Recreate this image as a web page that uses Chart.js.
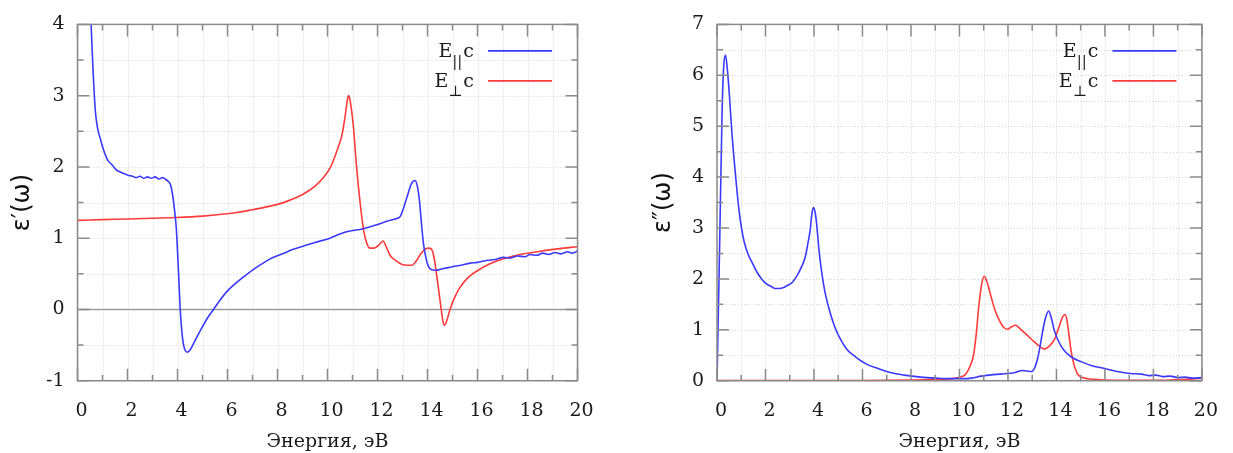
<!DOCTYPE html>
<html>
<head>
<meta charset="utf-8">
<script src="https://cdn.jsdelivr.net/npm/chart.js@4/dist/chart.umd.min.js"></script>
<style>
  body { margin: 0; background: #fff; }
  #wrap { position: relative; width: 1233px; height: 453px; overflow: hidden; }
  canvas { position: absolute; top: 0; }
</style>
</head>
<body>
<div id="wrap">
  <canvas id="re" width="616" height="453" style="left:0"></canvas>
  <canvas id="im" width="617" height="453" style="left:616px"></canvas>
</div>
<script>
// ε'(ω), E||c
const reParE = [0.3, 0.45, 0.55, 0.61, 0.71, 0.8, 0.91, 1.04, 1.2, 1.38, 1.55, 1.71, 1.9, 2.05, 2.2, 2.35, 2.5, 2.65, 2.8, 2.95,
  3.1, 3.25, 3.4, 3.55, 3.65, 3.72, 3.8, 3.88, 3.95, 4.03, 4.11, 4.2, 4.3, 4.4, 4.5, 4.64, 4.8, 5.0, 5.2, 5.44,
  5.7, 6.0, 6.37, 6.8, 7.2, 7.71, 8.2, 8.6, 9.04, 9.5, 10.1, 10.5, 10.9, 11.4, 11.98, 12.4, 12.7, 12.9, 13.04, 13.2,
  13.35, 13.5, 13.6, 13.68, 13.76, 13.84, 13.94, 14.04, 14.15, 14.3, 14.6, 15.0, 15.35, 15.7, 16.0, 16.4, 16.7, 17.04, 17.3, 17.6,
  17.9, 18.1, 18.38, 18.6, 18.85, 19.1, 19.35, 19.6, 19.8, 20.0];
const rePar = [6.0, 4.7, 3.95, 3.45, 2.8, 2.55, 2.4, 2.24, 2.1, 2.03, 1.96, 1.93, 1.9, 1.88, 1.87, 1.85, 1.87, 1.84, 1.86, 1.84,
  1.86, 1.83, 1.85, 1.82, 1.79, 1.75, 1.62, 1.4, 1.15, 0.6, 0.0, -0.4, -0.57, -0.6, -0.57, -0.48, -0.37, -0.24, -0.12, 0.0,
  0.13, 0.26, 0.38, 0.5, 0.6, 0.71, 0.78, 0.84, 0.89, 0.94, 1.0, 1.06, 1.1, 1.13, 1.19, 1.24, 1.27, 1.3, 1.42, 1.6,
  1.76, 1.81, 1.72, 1.52, 1.2, 0.92, 0.72, 0.6, 0.56, 0.55, 0.57, 0.6, 0.62, 0.65, 0.66, 0.69, 0.7, 0.73, 0.72, 0.75,
  0.74, 0.77, 0.76, 0.79, 0.77, 0.8, 0.78, 0.81, 0.79, 0.82];

// ε'(ω), E⊥c
const rePerpE = [0, 1, 2, 3, 3.97, 5, 6.37, 7.0, 7.71, 8.4, 9.04, 9.5, 9.84, 10.11, 10.3, 10.45, 10.58, 10.7, 10.8, 10.85,
  10.92, 11.04, 11.15, 11.31, 11.45, 11.58, 11.7, 11.85, 12.04, 12.22, 12.35, 12.5, 12.75, 12.98, 13.2, 13.38, 13.55, 13.71, 13.88, 14.04,
  14.15, 14.25, 14.38, 14.53, 14.62, 14.68, 14.76, 14.9, 15.1, 15.3, 15.6, 15.98, 16.5, 17.04, 17.7, 18.38, 19.2, 20];
const rePerp = [1.25, 1.26, 1.27, 1.28, 1.29, 1.31, 1.36, 1.4, 1.45, 1.52, 1.62, 1.73, 1.85, 1.99, 2.15, 2.3, 2.45, 2.7, 2.95, 3.0,
  2.9, 2.55, 2.05, 1.48, 1.1, 0.92, 0.86, 0.86, 0.9, 0.96, 0.88, 0.76, 0.68, 0.63, 0.62, 0.62, 0.68, 0.77, 0.84, 0.86,
  0.85, 0.75, 0.45, 0.05, -0.17, -0.22, -0.17, 0.0, 0.18, 0.31, 0.44, 0.54, 0.64, 0.71, 0.77, 0.81, 0.85, 0.88];

// ε''(ω), E||c
const imParE = [0, 0.11, 0.21, 0.28, 0.35, 0.42, 0.51, 0.61, 0.71, 0.81, 0.91, 1.01, 1.11, 1.27, 1.44, 1.64, 1.84, 2.04, 2.24, 2.4,
  2.58, 2.75, 2.9, 3.1, 3.31, 3.5, 3.64, 3.75, 3.84, 3.92, 3.98, 4.05, 4.11, 4.2, 4.31, 4.45, 4.64, 4.84, 5.04, 5.35,
  5.71, 6.15, 6.64, 7.15, 7.71, 8.4, 9.04, 9.6, 10.1, 10.5, 10.9, 11.4, 11.98, 12.3, 12.58, 12.78, 12.98, 13.1, 13.24, 13.34,
  13.44, 13.56, 13.68, 13.78, 13.91, 14.1, 14.31, 14.6, 15.04, 15.5, 15.98, 16.5, 17.04, 17.5, 17.8, 18.1, 18.38, 18.7, 19.0, 19.3,
  19.6, 20];
const imPar = [0, 2.69, 5.29, 6.2, 6.4, 6.15, 5.62, 4.9, 4.32, 3.8, 3.34, 3.0, 2.75, 2.5, 2.33, 2.14, 2.0, 1.9, 1.85, 1.81,
  1.81, 1.83, 1.87, 1.93, 2.07, 2.25, 2.43, 2.7, 2.95, 3.3, 3.4, 3.3, 3.08, 2.6, 2.16, 1.75, 1.38, 1.08, 0.86, 0.62,
  0.47, 0.33, 0.24, 0.16, 0.11, 0.07, 0.05, 0.04, 0.04, 0.05, 0.09, 0.12, 0.14, 0.16, 0.2, 0.19, 0.18, 0.25, 0.47, 0.72,
  0.99, 1.25, 1.37, 1.25, 0.99, 0.76, 0.6, 0.47, 0.37, 0.29, 0.24, 0.18, 0.14, 0.13, 0.1, 0.11, 0.08, 0.09, 0.06, 0.07,
  0.05, 0.06];

// ε''(ω), E⊥c
const imPerpE = [0, 4, 8.5, 9.3, 9.7, 10.0, 10.24, 10.45, 10.58, 10.7, 10.78, 10.9, 11.02, 11.15, 11.31, 11.47, 11.64, 11.8, 11.98, 12.15,
  12.31, 12.5, 12.78, 13.0, 13.24, 13.51, 13.7, 13.91, 14.11, 14.25, 14.35, 14.43, 14.51, 14.6, 14.71, 14.85, 14.98, 15.3, 15.8, 17,
  18.5, 19.5, 20];
const imPerp = [0.005, 0.005, 0.02, 0.03, 0.04, 0.07, 0.12, 0.3, 0.5, 0.95, 1.38, 1.85, 2.05, 1.92, 1.64, 1.38, 1.19, 1.06, 1.01, 1.06,
  1.09, 1.02, 0.9, 0.8, 0.7, 0.62, 0.68, 0.8, 1.06, 1.25, 1.3, 1.2, 0.93, 0.6, 0.34, 0.15, 0.08, 0.04, 0.02, 0.01,
  0.01, 0.03, 0.05];

const seriesLabels = [['E', '||', 'c'], ['E', '⊥', 'c']];
const xTitle = 'Энергия, эВ';

const BLUE = '#3a3aff';
const RED = '#ff3a3a';
const serif = 'DejaVu Serif';

const pts = (xs, ys) => xs.map((x, i) => ({ x: x, y: ys[i] }));

function near(v, step) {
  return Math.abs(v / step - Math.round(v / step)) < 1e-6;
}

const framePlugin = {
  id: 'frame',
  beforeDatasetsDraw(chart, args, o) {
    const { ctx, chartArea: a, scales: { x, y } } = chart;
    ctx.save();
    ctx.strokeStyle = '#d4d4d4';
    ctx.lineWidth = 1;
    ctx.setLineDash([1, 2]);
    ctx.beginPath();
    for (let v = x.min; v <= x.max + 1e-9; v += o.xMinor) {
      const px = Math.round(x.getPixelForValue(v)) + 0.5;
      ctx.moveTo(px, a.top);
      ctx.lineTo(px, a.bottom);
    }
    for (let v = y.min; v <= y.max + 1e-9; v += o.yMinor) {
      const py = Math.round(y.getPixelForValue(v)) + 0.5;
      ctx.moveTo(a.left, py);
      ctx.lineTo(a.right, py);
    }
    ctx.stroke();
    ctx.setLineDash([]);
    if (o.zeroLine) {
      const py = y.getPixelForValue(0);
      ctx.strokeStyle = '#9a9a9a';
      ctx.lineWidth = 1.5;
      ctx.beginPath();
      ctx.moveTo(a.left, py);
      ctx.lineTo(a.right, py);
      ctx.stroke();
    }
    ctx.restore();
  },
  afterDatasetsDraw(chart, args, o) {
    const { ctx, chartArea: a, scales: { x, y } } = chart;
    ctx.save();
    ctx.strokeStyle = '#8a8a8a';
    ctx.lineWidth = 1.5;
    ctx.strokeRect(a.left, a.top, a.right - a.left, a.bottom - a.top);
    ctx.beginPath();
    for (let v = x.min; v <= x.max + 1e-9; v += o.xMinor) {
      const px = x.getPixelForValue(v);
      const len = near(v, o.xMajor) ? 12 : 6;
      ctx.moveTo(px, a.bottom); ctx.lineTo(px, a.bottom - len);
      ctx.moveTo(px, a.top); ctx.lineTo(px, a.top + len);
    }
    for (let v = y.min; v <= y.max + 1e-9; v += o.yMinor) {
      const py = y.getPixelForValue(v);
      const len = near(v, o.yMajor) ? 12 : 6;
      ctx.moveTo(a.left, py); ctx.lineTo(a.left + len, py);
      ctx.moveTo(a.right, py); ctx.lineTo(a.right - len, py);
    }
    ctx.stroke();

    // legend: text right-aligned, then a line sample
    chart.data.datasets.forEach((ds, i) => {
      const parts = seriesLabels[i];
      const ly = a.top + 26.5 + i * 30;
      const right = a.right - 103.5;
      ctx.font = '19px "' + serif + '"';
      const w0 = ctx.measureText(parts[0]).width;
      const w2 = ctx.measureText(parts[2]).width;
      ctx.font = '15px "' + serif + '"';
      const w1 = ctx.measureText(parts[1]).width;
      let tx = right - (w0 + w1 + w2 + 1);
      ctx.fillStyle = '#1a1a1a';
      ctx.textBaseline = 'alphabetic';
      ctx.textAlign = 'left';
      ctx.font = '19px "' + serif + '"';
      ctx.fillText(parts[0], tx, ly + 6.5);
      tx += w0;
      ctx.font = '15px "' + serif + '"';
      ctx.fillText(parts[1], tx, ly + 15.5);
      tx += w1 + 1;
      ctx.font = '19px "' + serif + '"';
      ctx.fillText(parts[2], tx, ly + 6.5);

      ctx.strokeStyle = ds.borderColor;
      ctx.lineWidth = 1.6;
      ctx.beginPath();
      ctx.moveTo(a.right - 89.5, ly);
      ctx.lineTo(a.right - 25.5, ly);
      ctx.stroke();
    });
    ctx.restore();
  }
};

function makeChart(id, sets, yMin, yMax, yTitle, yWidth, padRight, titlePad, zeroLine) {
  return new Chart(document.getElementById(id), {
    type: 'line',
    data: {
      datasets: sets.map(s => ({
        label: s.label,
        data: s.data,
        borderColor: s.color,
        borderWidth: 1.6,
        pointRadius: 0,
        fill: false,
        cubicInterpolationMode: 'monotone'
      }))
    },
    options: {
      responsive: false,
      animation: false,
      events: [],
      layout: { padding: { left: 0, right: padRight, top: 22.7, bottom: 0 } },
      plugins: {
        legend: { display: false },
        tooltip: { enabled: false },
        frame: { xMinor: 1, xMajor: 2, yMinor: 0.5, yMajor: 1, zeroLine: zeroLine }
      },
      scales: {
        x: {
          type: 'linear',
          min: 0,
          max: 20,
          grid: { display: false, drawTicks: false },
          border: { display: false },
          ticks: {
            stepSize: 2,
            autoSkip: false,
            maxRotation: 0,
            padding: 19,
            labelOffset: 4,
            color: '#1a1a1a',
            font: { family: serif, size: 19 }
          },
          title: {
            display: true,
            text: xTitle,
            color: '#1a1a1a',
            font: { family: serif, size: 19 },
            padding: { top: 0, bottom: 0 }
          },
          afterFit: s => { s.height = 72.3; }
        },
        y: {
          type: 'linear',
          min: yMin,
          max: yMax,
          grid: { display: false, drawTicks: false },
          border: { display: false },
          ticks: {
            stepSize: 1,
            padding: 13,
            color: '#1a1a1a',
            font: { family: serif, size: 19 }
          },
          title: {
            display: true,
            text: yTitle,
            color: '#111',
            font: { family: 'DejaVu Sans', size: 24 },
            padding: { top: titlePad, bottom: 0 }
          },
          afterFit: s => { s.width = yWidth; }
        }
      }
    },
    plugins: [framePlugin]
  });
}

makeChart('re', [
  { label: 'E||c', data: pts(reParE, rePar), color: BLUE },
  { label: 'E⊥c', data: pts(rePerpE, rePerp), color: RED }
], -1, 4, 'ε′(ω)', 77.5, 38.5, 8.6, true);

makeChart('im', [
  { label: 'E||c', data: pts(imParE, imPar), color: BLUE },
  { label: 'E⊥c', data: pts(imPerpE, imPerp), color: RED }
], 0, 7, 'ε″(ω)', 101, 17, 33.6, false);
</script>
</body>
</html>
